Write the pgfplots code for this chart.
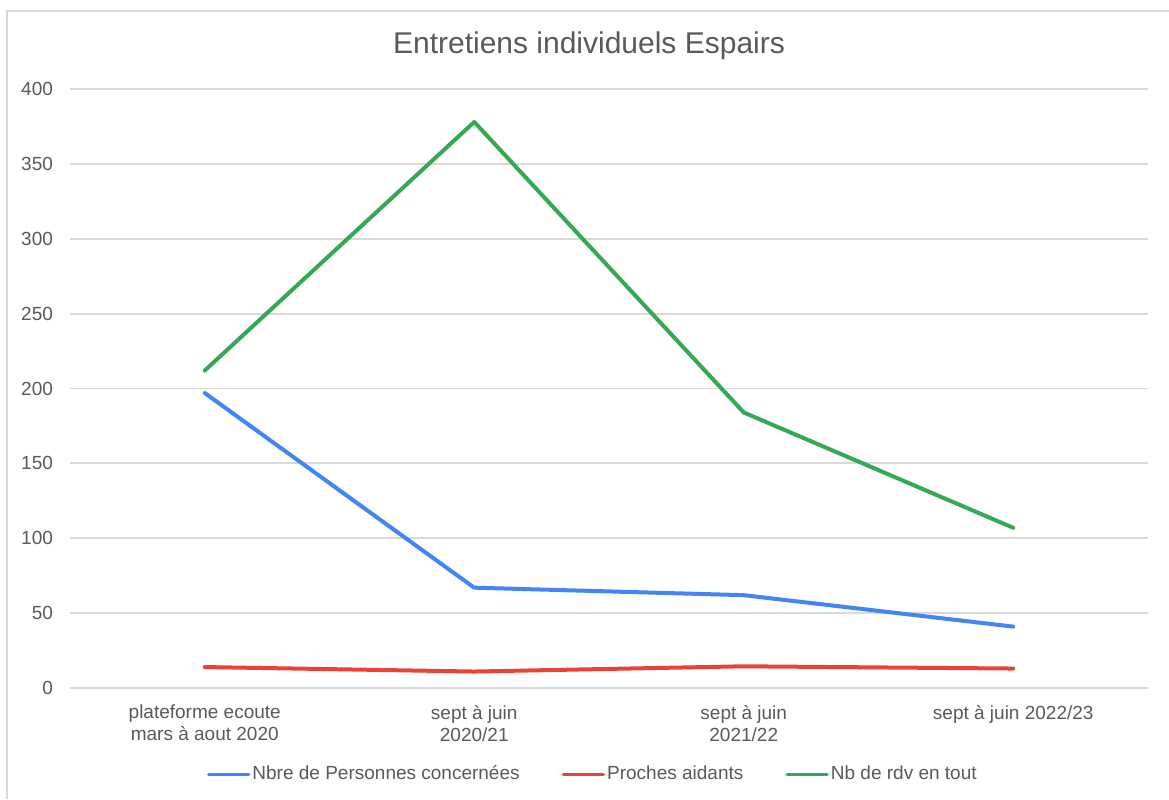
\documentclass[border=0pt]{standalone}
\usepackage{fontspec}
\setmainfont{Liberation Sans}
\usepackage{pgfplots}
\pgfplotsset{compat=1.18}
\definecolor{sBlue}{HTML}{4285F4}
\definecolor{sRed}{HTML}{EA4335}
\definecolor{sGreen}{HTML}{34A853}
\definecolor{gridGray}{HTML}{D9D9D9}
\definecolor{txtGray}{HTML}{595959}
\begin{document}
\begin{tikzpicture}
\useasboundingbox (0,0) rectangle (584.5pt,-399.5pt);
\draw[gridGray, line width=0.9pt] (3.5pt,-399.5pt) -- (3.5pt,-5.5pt) -- (584.5pt,-5.5pt);
\node[text=txtGray, font=\fontsize{15}{18}\selectfont] at (294.5pt,-23pt) {Entretiens individuels Espairs};
\begin{axis}[
    at={(35pt,-344pt)}, anchor=south west,
    scale only axis,
    width=539pt, height=299.5pt,
    xmin=-0.5, xmax=3.5,
    ymin=0, ymax=400,
    ytick={0,50,...,400},
    xtick={0,1,2,3},
    xticklabels={{plateforme ecoute\\mars à aout 2020},{sept à juin\\2020/21},{sept à juin\\2021/22},{sept à juin 2022/23}},
    ymajorgrids=true,
    major grid style={gridGray, line width=0.9pt},
    axis line style={draw=none},
    tick style={draw=none},
    /pgf/number format/assume math mode=true,
    tick label style={text=txtGray, font=\fontsize{9.5}{11}\selectfont},
    xticklabel style={align=center, yshift=-5pt},
    yticklabel style={xshift=-5pt},
    legend columns=3,
    legend style={at={(0.485,-0.144)}, anchor=center, draw=none, fill=none,
        font=\fontsize{9.5}{10.5}\selectfont, text=txtGray,
        nodes={inner sep=1pt},
        /tikz/every even column/.append style={column sep=20pt}},
    legend image code/.code={\draw[#1, line width=1.75pt, line cap=round] (0pt,0pt) -- (20pt,0pt);},
    every axis plot/.append style={line width=2pt, line cap=round, line join=round},
    clip=false,
]
\addplot[sBlue, mark=none] coordinates {(0,197) (1,67) (2,62) (3,41)};
\addplot[sRed, mark=none] coordinates {(0,14) (1,11) (2,14.5) (3,13)};
\addplot[sGreen, mark=none] coordinates {(0,212) (1,378) (2,184) (3,107)};
\legend{Nbre de Personnes concernées, Proches aidants, Nb de rdv en tout}
\end{axis}
\end{tikzpicture}
\end{document}
